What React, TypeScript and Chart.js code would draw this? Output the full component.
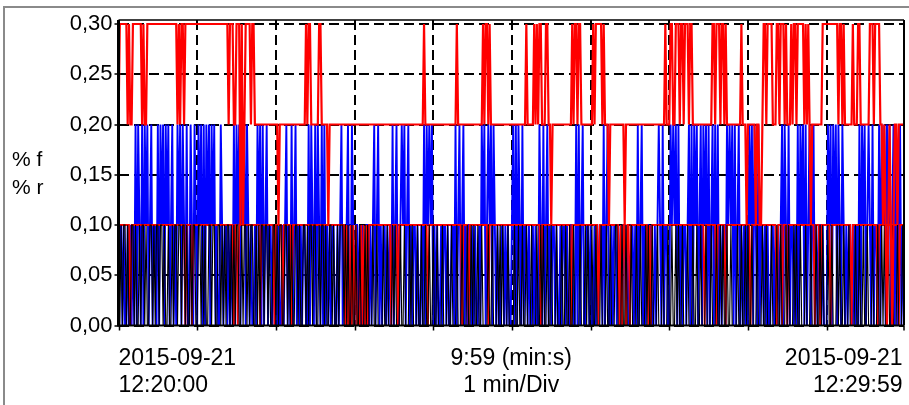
import { useEffect, useRef } from "react";
import { Chart, registerables } from "chart.js";

Chart.register(...registerables);

// One sample per second from 12:20:00 to 12:29:59
const sampleSeconds: number[] = Array.from({ length: 600 }, (_, i) => i);
const divisionSeconds = [0, 60, 120, 180, 240, 300, 360, 420, 480, 540];
const yTickValues = [0, 0.05, 0.1, 0.15, 0.2, 0.25, 0.3];
const yAxisTitle = ["% f", "% r"];
const startStamp = ["2015-09-21", "12:20:00"];
const spanInfo = ["9:59 (min:s)", "1 min/Div"];
const endStamp = ["2015-09-21", "12:29:59"];

// red trace, upper levels (one line per minute)
const redUpper = [
  0.2,0.3,0.3,0.3,0.3,0.3,0.3,0.2,0.3,0.2, 0.2,0.3,0.3,0.3,0.3,0.3,0.3,0.3,0.2,0.3, 0.2,0.2,0.3,0.3,0.3,0.3,0.3,0.3,0.3,0.3, 0.3,0.3,0.3,0.3,0.3,0.3,0.3,0.3,0.3,0.3, 0.3,0.3,0.3,0.3,0.3,0.2,0.3,0.2,0.3,0.3, 0.2,0.3,0.3,0.3,0.3,0.3,0.3,0.3,0.3,0.3,
  0.3,0.3,0.3,0.3,0.3,0.3,0.3,0.3,0.3,0.3, 0.3,0.3,0.3,0.3,0.3,0.3,0.3,0.3,0.3,0.3, 0.3,0.3,0.3,0.3,0.2,0.3,0.3,0.3,0.2,0.2, 0.3,0.3,0.3,0.1,0.3,0.1,0.2,0.3,0.3,0.3, 0.3,0.2,0.3,0.3,0.2,0.2,0.2,0.2,0.2,0.2, 0.2,0.2,0.2,0.2,0.2,0.2,0.2,0.2,0.2,0.2,
  0.2,0.2,0.1,0.2,0.2,0.2,0.2,0.2,0.2,0.2, 0.2,0.2,0.2,0.2,0.2,0.2,0.2,0.2,0.2,0.2, 0.2,0.2,0.2,0.3,0.2,0.3,0.3,0.2,0.2,0.2, 0.2,0.2,0.2,0.3,0.3,0.2,0.2,0.2,0.2,0.2, 0.1,0.2,0.2,0.2,0.2,0.2,0.2,0.2,0.2,0.2, 0.2,0.2,0.2,0.2,0.2,0.2,0.2,0.2,0.2,0.2,
  0.2,0.2,0.2,0.2,0.2,0.2,0.2,0.2,0.2,0.2, 0.2,0.2,0.2,0.2,0.2,0.2,0.2,0.2,0.2,0.2, 0.2,0.2,0.2,0.2,0.2,0.2,0.2,0.2,0.2,0.2, 0.2,0.2,0.2,0.2,0.2,0.2,0.2,0.2,0.2,0.2, 0.2,0.2,0.2,0.2,0.2,0.2,0.2,0.2,0.2,0.2, 0.2,0.2,0.2,0.3,0.2,0.2,0.2,0.2,0.2,0.2,
  0.2,0.2,0.2,0.2,0.2,0.2,0.2,0.2,0.2,0.2, 0.2,0.2,0.2,0.2,0.2,0.2,0.2,0.2,0.3,0.2, 0.2,0.2,0.2,0.2,0.2,0.2,0.2,0.2,0.2,0.2, 0.2,0.2,0.2,0.2,0.2,0.2,0.2,0.2,0.3,0.2, 0.3,0.3,0.2,0.3,0.2,0.2,0.2,0.2,0.2,0.2, 0.2,0.2,0.2,0.2,0.2,0.2,0.2,0.2,0.2,0.2,
  0.2,0.2,0.2,0.2,0.2,0.2,0.2,0.2,0.2,0.2, 0.2,0.3,0.2,0.2,0.2,0.2,0.2,0.3,0.2,0.3, 0.2,0.3,0.3,0.2,0.2,0.2,0.3,0.3,0.2,0.2, 0.1,0.2,0.2,0.2,0.2,0.2,0.2,0.2,0.2,0.2, 0.2,0.2,0.2,0.2,0.2,0.2,0.3,0.2,0.3,0.3, 0.2,0.3,0.3,0.2,0.2,0.2,0.2,0.2,0.2,0.2,
  0.2,0.2,0.3,0.2,0.3,0.3,0.3,0.3,0.3,0.2, 0.3,0.2,0.2,0.2,0.1,0.2,0.2,0.2,0.2,0.2, 0.2,0.2,0.2,0.2,0.2,0.2,0.1,0.2,0.2,0.2, 0.2,0.2,0.2,0.2,0.2,0.2,0.2,0.2,0.2,0.2, 0.2,0.2,0.2,0.2,0.2,0.2,0.2,0.2,0.2,0.2, 0.2,0.2,0.2,0.2,0.2,0.2,0.2,0.3,0.2,0.2,
  0.2,0.3,0.3,0.2,0.2,0.3,0.3,0.3,0.2,0.3, 0.3,0.2,0.3,0.3,0.3,0.2,0.3,0.3,0.2,0.2, 0.2,0.2,0.2,0.2,0.2,0.2,0.2,0.2,0.2,0.2, 0.2,0.2,0.2,0.3,0.3,0.2,0.3,0.3,0.3,0.2, 0.3,0.3,0.2,0.3,0.2,0.2,0.2,0.2,0.2,0.2, 0.2,0.2,0.2,0.2,0.2,0.3,0.2,0.2,0.2,0.1,
  0.2,0.2,0.2,0.2,0.2,0.2,0.1,0.2,0.2,0.1, 0.1,0.2,0.3,0.3,0.2,0.3,0.3,0.3,0.3,0.2, 0.2,0.2,0.3,0.3,0.2,0.3,0.3,0.3,0.2,0.3, 0.2,0.2,0.2,0.3,0.2,0.3,0.3,0.2,0.3,0.3, 0.3,0.3,0.3,0.2,0.3,0.2,0.3,0.2,0.1,0.2, 0.2,0.2,0.2,0.2,0.2,0.2,0.2,0.3,0.3,0.3,
  0.3,0.3,0.3,0.3,0.3,0.3,0.3,0.3,0.3,0.2, 0.3,0.3,0.2,0.3,0.2,0.2,0.2,0.2,0.2,0.2, 0.3,0.2,0.2,0.2,0.3,0.3,0.2,0.2,0.2,0.2, 0.2,0.2,0.2,0.3,0.3,0.3,0.2,0.3,0.3,0.3, 0.3,0.2,0.2,0.1,0.2,0.1,0,0.1,0.2,0.1, 0,0.1,0.2,0.2,0.1,0.2,0.2,0.2,0.2,0.2,
];

// red trace, lower levels
const redLower = [
  0.1,0.1,0.1,0.1,0.1,0.1,0.1,0.1,0.1,0, 0.1,0.1,0.1,0.1,0.1,0.1,0.1,0.1,0.1,0.1, 0.1,0.1,0.1,0.1,0.1,0.1,0.1,0.1,0.1,0.1, 0.1,0.1,0.1,0.1,0.1,0.1,0.1,0.1,0.1,0.1, 0.1,0.1,0.1,0.1,0.1,0.1,0.1,0.1,0.1,0.1, 0.1,0,0.1,0.1,0.1,0.1,0,0.1,0.1,0.1,
  0.1,0.1,0.1,0.1,0.1,0.1,0.1,0.1,0.1,0.1, 0.1,0.1,0.1,0.1,0.1,0.1,0.1,0.1,0.1,0.1, 0.1,0.1,0.1,0.1,0.1,0.1,0.1,0.1,0,0.1, 0.1,0,0.1,0.1,0.1,0.1,0.1,0.1,0.1,0.1, 0.1,0.1,0.1,0.1,0.1,0.1,0.1,0.1,0,0.1, 0.1,0.1,0.1,0.1,0.1,0.1,0.1,0.1,0.1,0,
  0.1,0.1,0.1,0.1,0.1,0,0.1,0.1,0.1,0.1, 0.1,0.1,0,0.1,0.1,0.1,0.1,0.1,0.1,0.1, 0.1,0.1,0.1,0.1,0.1,0.1,0.1,0.1,0.1,0.1, 0.1,0.1,0.1,0.1,0.1,0.1,0.1,0.1,0.1,0.1, 0.1,0.1,0.1,0.1,0.1,0.1,0.1,0.1,0.1,0.1, 0.1,0.1,0.1,0,0.1,0,0,0.1,0,0.1,
  0,0.1,0,0,0,0.1,0,0.1,0,0.1, 0,0.1,0.1,0.1,0.1,0.1,0.1,0.1,0.1,0.1, 0.1,0.1,0.1,0.1,0.1,0.1,0.1,0.1,0,0.1, 0.1,0.1,0.1,0,0.1,0.1,0.1,0.1,0.1,0.1, 0.1,0.1,0.1,0.1,0.1,0.1,0.1,0.1,0.1,0.1, 0.1,0.1,0.1,0.1,0.1,0.1,0,0.1,0.1,0.1,
  0.1,0.1,0.1,0.1,0.1,0.1,0.1,0.1,0.1,0.1, 0.1,0.1,0.1,0.1,0.1,0.1,0.1,0.1,0.1,0.1, 0.1,0.1,0,0.1,0.1,0.1,0.1,0,0.1,0.1, 0.1,0.1,0.1,0.1,0.1,0.1,0.1,0.1,0.1,0.1, 0.1,0.1,0,0.1,0.1,0.1,0.1,0.1,0.1,0.1, 0.1,0.1,0.1,0.1,0.1,0.1,0.1,0.1,0.1,0.1,
  0.1,0.1,0.1,0.1,0.1,0.1,0.1,0.1,0.1,0.1, 0.1,0.1,0.1,0.1,0.1,0.1,0.1,0.1,0.1,0.1, 0.1,0.1,0,0.1,0.1,0.1,0.1,0.1,0.1,0.1, 0.1,0.1,0.1,0.1,0.1,0.1,0.1,0.1,0.1,0.1, 0.1,0.1,0.1,0.1,0.1,0,0.1,0.1,0.1,0.1, 0.1,0.1,0.1,0.1,0.1,0.1,0.1,0.1,0.1,0.1,
  0.1,0.1,0.1,0.1,0.1,0.1,0,0.1,0.1,0.1, 0.1,0.1,0.1,0.1,0.1,0.1,0.1,0.1,0.1,0.1, 0.1,0.1,0,0.1,0,0.1,0.1,0,0.1,0.1, 0,0.1,0.1,0.1,0.1,0.1,0.1,0.1,0.1,0.1, 0.1,0.1,0.1,0.1,0,0.1,0,0.1,0.1,0.1, 0.1,0.1,0.1,0.1,0.1,0.1,0.1,0.1,0.1,0.1,
  0.1,0.1,0.1,0.1,0.1,0.1,0.1,0.1,0.1,0.1, 0.1,0.1,0.1,0.1,0.1,0.1,0.1,0.1,0.1,0.1, 0.1,0.1,0.1,0.1,0.1,0.1,0.1,0,0.1,0.1, 0.1,0.1,0.1,0.1,0.1,0.1,0,0.1,0.1,0.1, 0.1,0.1,0.1,0,0.1,0.1,0.1,0.1,0.1,0.1, 0.1,0.1,0.1,0.1,0.1,0.1,0.1,0.1,0.1,0.1,
  0.1,0.1,0,0.1,0.1,0.1,0.1,0.1,0.1,0.1, 0.1,0.1,0.1,0.1,0.1,0.1,0.1,0.1,0.1,0.1, 0.1,0.1,0,0.1,0.1,0.1,0,0.1,0.1,0.1, 0,0.1,0.1,0.1,0.1,0.1,0.1,0.1,0.1,0.1, 0.1,0.1,0.1,0.1,0.1,0.1,0.1,0.1,0.1,0.1, 0.1,0,0.1,0.1,0.1,0,0.1,0.1,0.1,0.1,
  0.1,0.1,0.1,0,0.1,0.1,0.1,0.1,0.1,0.1, 0.1,0.1,0.1,0.1,0.1,0.1,0.1,0.1,0.1,0, 0.1,0.1,0.1,0.1,0.1,0.1,0.1,0.1,0.1,0.1, 0.1,0.1,0.1,0.1,0.1,0.1,0.1,0.1,0.1,0, 0.1,0.1,0.1,0.1,0.1,0.1,0.1,0.1,0.1,0.1, 0.1,0.1,0.1,0.1,0.1,0,0.1,0.1,0.1,0.1,
];

// blue trace
const blueTrace = [
  0,0.1,0.1,0,0.1,0,0,0.1,0,0.1, 0,0.1,0,0.2,0,0.2,0.1,0,0.2,0, 0.2,0.1,0.2,0,0.1,0.2,0,0.1,0.1,0, 0.2,0,0.2,0.1,0.2,0,0.2,0.1,0.2,0, 0.1,0.2,0,0.1,0,0.2,0.1,0.2,0,0.2, 0.1,0,0.2,0,0,0.2,0.1,0,0.2,0.1,
  0,0.2,0.1,0.2,0,0.2,0,0.2,0.1,0.2, 0,0.2,0.1,0.2,0,0.1,0,0,0.2,0.1, 0,0.1,0.1,0,0.1,0,0.1,0,0.2,0, 0.2,0.1,0.2,0,0.2,0.1,0.2,0,0.2,0.1, 0,0.1,0,0,0.1,0,0.2,0.1,0.2,0, 0.2,0,0.1,0.2,0,0.1,0.1,0,0.1,0,
  0.1,0,0.1,0,0,0.1,0,0.1,0.2,0, 0.1,0,0.2,0,0.1,0.2,0,0.1,0,0.1, 0,0.1,0.1,0,0,0.2,0,0.2,0.1,0, 0.2,0,0.2,0.1,0,0.2,0,0.2,0,0.1, 0,0.1,0,0.1,0.1,0,0,0.1,0,0.1, 0.2,0,0.1,0,0.1,0.2,0,0,0.2,0.1,
  0,0.1,0.1,0,0.1,0,0.1,0,0,0.1, 0.1,0,0.1,0,0.1,0.2,0,0.1,0.2,0, 0.1,0,0.1,0.1,0,0.1,0,0.1,0,0.2, 0,0.1,0.2,0,0,0.1,0.2,0.1,0.2,0, 0.1,0.2,0,0.1,0,0.1,0.1,0,0.1,0, 0,0.1,0,0.2,0,0.2,0.1,0.2,0.1,0.2,
  0,0.1,0,0.1,0,0,0.1,0,0.1,0.1, 0,0.1,0,0,0.1,0.1,0,0.2,0,0.1, 0.2,0,0.1,0.2,0,0.1,0,0.1,0.1,0, 0.1,0,0.1,0,0,0.1,0,0.2,0.1,0.2, 0,0.1,0.2,0.1,0.2,0,0.2,0.1,0,0.1, 0,0,0.1,0.1,0,0.1,0,0.1,0,0,
  0.1,0.2,0,0.2,0,0.2,0.1,0,0.2,0, 0.1,0.1,0,0.1,0,0,0.1,0,0.1,0, 0,0.2,0.1,0,0.2,0,0.1,0.2,0,0.1, 0,0.1,0.1,0,0.1,0,0,0.1,0,0.1, 0.1,0,0.1,0,0,0.1,0.1,0,0,0.2, 0,0.2,0,0.1,0.2,0,0,0.1,0.1,0,
  0.1,0,0,0.1,0,0.1,0,0.1,0.1,0, 0.2,0,0.1,0.2,0,0,0.1,0,0.1,0.1, 0,0.1,0,0.1,0,0.1,0.1,0,0.1,0, 0,0.1,0.1,0,0.1,0,0.2,0,0.1,0.2, 0,0.1,0,0.1,0.1,0,0.1,0,0,0.1, 0,0.1,0.2,0.1,0,0.2,0,0.1,0.1,0,
  0,0.2,0.1,0.2,0.1,0.2,0,0.2,0,0.1, 0,0.1,0.1,0,0.1,0.2,0,0.2,0,0.2, 0.1,0.2,0,0.1,0.2,0,0.2,0.1,0.2,0, 0.2,0,0.1,0.2,0,0.2,0,0.2,0,0.1, 0,0.1,0.1,0,0.2,0.1,0.2,0.1,0.2,0, 0.2,0,0.1,0.2,0,0.1,0,0.1,0,0.1,
  0,0.2,0.1,0.2,0,0.2,0.1,0,0.2,0, 0.1,0.1,0,0.1,0,0.1,0,0,0.1,0.1, 0,0.1,0,0.1,0,0.1,0.2,0,0.2,0.1, 0,0.2,0,0.1,0.1,0,0.1,0,0.2,0, 0.2,0.1,0.2,0,0.2,0,0.1,0.2,0,0.1, 0.2,0,0.1,0,0.1,0.1,0,0.1,0,0,
  0,0.2,0.1,0.2,0,0.2,0.1,0.2,0,0.2, 0.1,0,0.2,0.1,0,0.1,0,0.1,0.1,0, 0,0.1,0,0.1,0,0.2,0,0.2,0.1,0.2, 0,0.1,0.2,0.1,0,0.2,0,0.1,0.1,0, 0.2,0,0.2,0.1,0.2,0,0.2,0.1,0.2,0, 0.1,0.2,0,0.2,0,0.1,0.2,0,0.1,0,
];

// black trace
const blackTrace = [
  0.1,0,0.1,0,0.1,0.1,0,0.1,0,0, 0.1,0.1,0,0.1,0,0,0.1,0,0.1,0.1, 0,0.1,0,0,0.1,0.1,0,0.1,0,0.1, 0.1,0,0.1,0.1,0,0.1,0,0,0.1,0, 0,0.1,0,0.1,0.1,0,0.1,0.1,0,0.1, 0.1,0,0.1,0,0,0.1,0,0.1,0.1,0,
  0,0.1,0.1,0,0.1,0,0.1,0,0,0.1, 0.1,0,0.1,0.1,0,0,0.1,0.1,0,0.1, 0,0.1,0,0.1,0.1,0,0.1,0,0.1,0, 0.1,0.1,0,0,0.1,0,0.1,0.1,0,0.1, 0,0.1,0.1,0,0,0.1,0,0.1,0,0.1, 0.1,0,0.1,0.1,0,0.1,0,0,0.1,0.1,
  0,0.1,0,0.1,0.1,0,0,0.1,0.1,0, 0.1,0,0.1,0,0,0.1,0.1,0,0.1,0, 0,0.1,0.1,0,0.1,0,0.1,0.1,0,0.1, 0.1,0,0,0.1,0,0.1,0.1,0,0.1,0, 0,0.1,0.1,0,0.1,0,0,0.1,0,0.1, 0.1,0.1,0,0.1,0,0.1,0,0,0.1,0,
  0,0.1,0,0,0.1,0,0,0,0.1,0, 0.1,0,0,0,0.1,0,0,0.1,0,0, 0,0,0.1,0,0,0.1,0,0,0,0.1, 0,0.1,0,0,0,0.1,0,0,0.1,0, 0,0,0.1,0,0.1,0,0,0,0.1,0, 0,0.1,0,0,0.1,0,0,0.1,0,0,
  0.1,0,0,0.1,0,0,0,0.1,0,0, 0,0.1,0,0,0.1,0,0,0,0.1,0, 0,0,0.1,0,0,0,0.1,0,0,0.1, 0,0.1,0,0,0.1,0,0,0.1,0,0, 0,0,0.1,0,0,0.1,0,0,0,0.1, 0,0.1,0,0.1,0,0,0,0.1,0,0,
  0,0,0.1,0,0,0.1,0,0,0.1,0, 0,0.1,0,0,0,0.1,0,0,0,0.1, 0,0,0.1,0,0.1,0,0,0.1,0,0, 0.1,0,0,0,0.1,0,0,0,0.1,0, 0,0.1,0,0,0.1,0,0,0.1,0,0, 0,0,0.1,0,0,0,0.1,0,0.1,0,
  0,0.1,0,0,0.1,0,0,0,0.1,0, 0,0,0.1,0,0,0.1,0,0,0,0.1, 0.1,0,0,0,0.1,0,0,0.1,0,0, 0,0.1,0,0,0,0.1,0,0,0.1,0, 0,0,0.1,0,0.1,0,0,0.1,0,0, 0,0.1,0,0,0,0.1,0,0,0,0.1,
  0,0,0.1,0,0,0.1,0,0.1,0,0, 0.1,0,0,0,0.1,0,0,0,0.1,0, 0,0.1,0,0,0.1,0,0,0,0.1,0, 0,0,0.1,0,0,0,0.1,0,0,0.1, 0,0.1,0,0,0.1,0,0,0.1,0,0, 0,0,0.1,0,0,0.1,0,0,0.1,0,
  0.1,0,0,0.1,0,0,0,0.1,0,0, 0,0.1,0,0,0.1,0,0,0,0.1,0, 0,0,0.1,0,0,0.1,0,0,0,0.1, 0,0.1,0,0,0,0.1,0,0.1,0,0, 0.1,0,0,0,0.1,0,0,0,0.1,0, 0,0,0.1,0,0,0.1,0,0.1,0,0,
  0,0.1,0,0,0.1,0,0,0,0.1,0, 0.1,0,0,0.1,0,0,0,0.1,0,0, 0,0,0.1,0,0,0.1,0,0,0.1,0, 0,0.1,0,0,0,0.1,0,0,0,0.1, 0,0,0.1,0,0.1,0,0,0.1,0,0, 0.1,0,0,0,0.1,0,0,0,0.1,0,
];

const FONT = '"Liberation Sans", Arial, Helvetica, sans-serif';

// Solid plot frame, tick marks, captions and the outer panel edge
const framePlugin = {
  id: "recorderFrame",
  afterDraw(chart: any) {
    const { ctx, chartArea: a } = chart;
    const xs = chart.scales.x;
    ctx.save();
    ctx.setLineDash([]);
    ctx.strokeStyle = "#000";

    ctx.lineWidth = 1.5;
    ctx.beginPath();
    ctx.moveTo(a.left, a.top);
    ctx.lineTo(a.right, a.top);
    ctx.stroke();

    ctx.lineWidth = 2;
    ctx.beginPath();
    ctx.moveTo(a.right, a.top);
    ctx.lineTo(a.right, a.bottom);
    ctx.moveTo(a.left, a.bottom);
    ctx.lineTo(a.right, a.bottom);
    ctx.stroke();

    ctx.lineWidth = 3;
    ctx.beginPath();
    ctx.moveTo(a.left, a.top);
    ctx.lineTo(a.left, a.bottom + 1);
    ctx.stroke();

    ctx.lineWidth = 1.5;
    ctx.beginPath();
    for (const s of divisionSeconds) {
      const px = Math.round(xs.getPixelForValue(s)) + 0.5;
      ctx.moveTo(px, a.bottom);
      ctx.lineTo(px, a.bottom + 5);
    }
    ctx.moveTo(a.right, a.bottom);
    ctx.lineTo(a.right, a.bottom + 5);
    ctx.stroke();

    ctx.fillStyle = "#000";
    ctx.textBaseline = "alphabetic";
    ctx.font = `23px ${FONT}`;
    ctx.textAlign = "left";
    ctx.fillText(startStamp[0], a.left, 365);
    ctx.fillText(startStamp[1], a.left, 392);
    ctx.textAlign = "center";
    const mid = (a.left + a.right) / 2;
    ctx.fillText(spanInfo[0], mid, 365);
    ctx.fillText(spanInfo[1], mid, 392);
    ctx.textAlign = "right";
    ctx.fillText(endStamp[0], a.right - 1.5, 365);
    ctx.fillText(endStamp[1], a.right - 1.5, 392);

    ctx.font = `21px ${FONT}`;
    ctx.textAlign = "left";
    ctx.fillText(yAxisTitle[0], 12, 166);
    ctx.fillText(yAxisTitle[1], 12, 194);

    ctx.strokeStyle = "#8a8a8a";
    ctx.lineWidth = 2;
    ctx.beginPath();
    ctx.moveTo(4, 405);
    ctx.lineTo(4, 7);
    ctx.lineTo(909, 7);
    ctx.stroke();
    ctx.restore();
  },
};

export default function App() {
  const canvasRef = useRef<HTMLCanvasElement | null>(null);

  useEffect(() => {
    const canvas = canvasRef.current;
    if (!canvas) return;

    const trace = (data: number[], color: string, width: number, order: number) => ({
      data,
      borderColor: color,
      backgroundColor: color,
      borderWidth: width,
      pointRadius: 0,
      pointHoverRadius: 0,
      tension: 0,
      fill: false,
      order,
    });

    const chart = new Chart(canvas, {
      type: "line",
      data: {
        labels: sampleSeconds,
        datasets: [
          trace(redUpper, "#ff0000", 2.2, 0),
          trace(blackTrace, "#000000", 1.1, 1),
          trace(redLower, "#ff0000", 1.8, 2),
          trace(blueTrace, "#0000ff", 1.9, 3),
        ],
      },
      options: {
        animation: false,
        responsive: false,
        devicePixelRatio: 1,
        events: [],
        layout: { padding: { left: 0, top: 20, right: 5, bottom: 0 } },
        plugins: { legend: { display: false }, tooltip: { enabled: false } },
        scales: {
          x: {
            type: "linear",
            min: 0,
            max: 599,
            afterBuildTicks: (scale: any) => {
              scale.ticks = divisionSeconds.map((value) => ({ value }));
            },
            afterFit: (scale: any) => {
              scale.height = 79.5;
            },
            ticks: { display: false },
            grid: { color: "#000", lineWidth: 2, drawTicks: false },
            border: { display: false, dash: [10, 5] },
          },
          y: {
            type: "linear",
            min: 0,
            max: 0.304,
            afterBuildTicks: (scale: any) => {
              scale.ticks = yTickValues.map((value) => ({ value }));
            },
            afterFit: (scale: any) => {
              scale.width = 118.5;
            },
            ticks: {
              color: "#000",
              padding: 2,
              font: { family: FONT, size: 22 },
              callback: (v: any) => Number(v).toFixed(2).replace(".", ","),
            },
            grid: {
              color: "#000",
              lineWidth: 2,
              drawTicks: true,
              tickLength: 4,
              tickColor: "#000",
              tickWidth: 1.5,
              tickBorderDash: [],
            },
            border: { display: false, dash: [10, 5] },
          },
        },
      },
      plugins: [framePlugin],
    });

    return () => chart.destroy();
  }, []);

  return (
    <div style={{ position: "fixed", left: 0, top: 0, width: 909, height: 405, background: "#fff" }}>
      <canvas ref={canvasRef} width={909} height={405} style={{ width: 909, height: 405, display: "block" }} />
    </div>
  );
}
